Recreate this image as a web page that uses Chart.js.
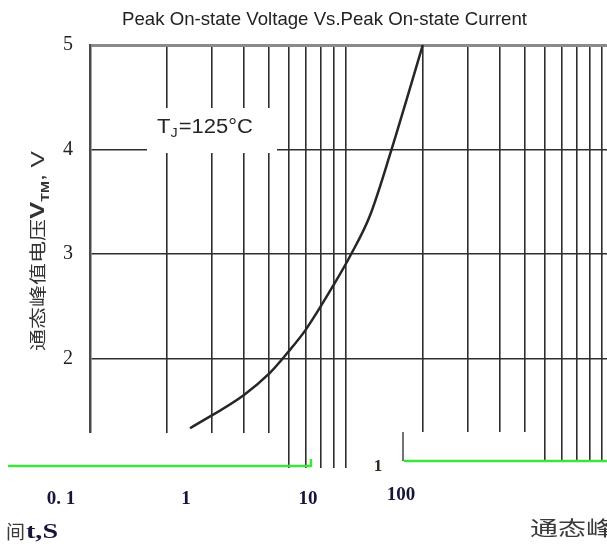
<!DOCTYPE html>
<html>
<head>
<meta charset="utf-8">
<script src="https://cdn.jsdelivr.net/npm/chart.js@4/dist/chart.umd.min.js"></script>
<style>
  html, body { margin: 0; padding: 0; background: #fff; }
</style>
</head>
<body>
<canvas id="vtm" width="607" height="548"></canvas>
<script>
// peak on-state current (A) vs peak on-state voltage (V), Tj = 125°C
const current = [2.46, 4.0, 5.05, 5.95, 7.0, 9.05, 10.4, 12.4, 15.1, 17.3, 20];
const voltage = [1.33, 1.65, 1.86, 2.06, 2.28, 2.72, 2.98, 3.36, 4.0, 4.48, 5.0];

// log grid: 1..10, 20..100
const currentGrid = [1, 2, 3, 4, 5, 6, 7, 8, 9, 10, 20, 30, 40, 50, 60, 70, 80, 90, 100];
const voltTicks = [1, 2, 3, 4, 5];
const timeTicks = ["0. 1", "1", "10", "100"];

const titleText = "Peak On-state Voltage Vs.Peak On-state Current";
const GRID = "#2e2e2e";
const SERIF = "'Liberation Serif', 'Times New Roman', serif";
const SANS = "'Liberation Sans', Arial, sans-serif";
const CJK = "'Noto Sans CJK SC', sans-serif";

// text squeezed/stretched to a given width
function fitText(ctx, text, x, y, width) {
  const w = ctx.measureText(text).width;
  ctx.save();
  ctx.translate(x, y);
  ctx.scale(width / w, 1);
  ctx.fillText(text, 0, 0);
  ctx.restore();
}

const overlays = {
  id: "overlays",
  afterDraw(chart) {
    const { ctx } = chart;
    ctx.save();

    // heading
    ctx.fillStyle = "#222";
    ctx.textBaseline = "alphabetic";
    ctx.textAlign = "left";
    ctx.font = "19px " + SANS;
    fitText(ctx, titleText, 122, 25, 405);

    // broken strip along the bottom edge
    ctx.fillStyle = "#fff";
    ctx.fillRect(0, 433, 287, 60);
    ctx.fillRect(400, 432, 142, 60);
    ctx.fillRect(540, 462, 67, 30);
    ctx.strokeStyle = "#3be63b";
    ctx.lineWidth = 2.5;
    ctx.beginPath();
    ctx.moveTo(8, 466);
    ctx.lineTo(311, 466);
    ctx.lineTo(311, 459);
    ctx.moveTo(404, 461);
    ctx.lineTo(607, 461);
    ctx.stroke();
    ctx.strokeStyle = "#444";
    ctx.lineWidth = 1.5;
    ctx.beginPath();
    ctx.moveTo(403, 432);
    ctx.lineTo(403, 461);
    ctx.stroke();

    // temperature label on a white patch
    ctx.fillStyle = "#fff";
    ctx.fillRect(147, 108, 130, 45);
    ctx.fillStyle = "#262626";
    ctx.save();
    ctx.translate(157, 133);
    ctx.scale(1.1, 1);
    let x = 0;
    ctx.font = "20px " + SANS;
    ctx.fillText("T", x, 0);
    x += ctx.measureText("T").width;
    ctx.font = "13px " + SANS;
    ctx.fillText("J", x, 4);
    x += ctx.measureText("J").width + 1;
    ctx.font = "20px " + SANS;
    ctx.fillText("=125°C", x, 0);
    ctx.restore();

    // rotated y-axis title with subscript
    const parts = [
      { t: "通态峰值电压", f: "17px " + CJK, dy: 0 },
      { t: "V", f: "bold 20px " + SANS, dy: 0 },
      { t: "TM", f: "bold 11px " + SANS, dy: 5 },
      { t: ", V", f: "19px " + SANS, dy: 0 }
    ];
    let total = 0;
    parts.forEach(p => { ctx.font = p.f; p.w = ctx.measureText(p.t).width; total += p.w; });
    ctx.save();
    ctx.translate(44, 251);
    ctx.rotate(-Math.PI / 2);
    ctx.scale(200 / total, 1);
    ctx.fillStyle = "#333";
    let px = -total / 2;
    parts.forEach(p => {
      ctx.font = p.f;
      ctx.fillText(p.t, px, p.dy);
      px += p.w;
    });
    ctx.restore();

    // time axis labels below the plot
    const timeX = [61, 186, 308, 401];
    const timeY = [504, 504, 504, 500];
    ctx.fillStyle = "#15153a";
    ctx.textAlign = "center";
    ctx.font = "bold 19px " + SERIF;
    timeTicks.forEach((t, i) => ctx.fillText(t, timeX[i], timeY[i]));
    ctx.fillStyle = "#2a2a1a";
    ctx.font = "bold 17px " + SERIF;
    ctx.fillText("1", 378, 471);

    ctx.textAlign = "left";
    ctx.fillStyle = "#3a3a3a";
    ctx.font = "19px " + CJK;
    fitText(ctx, "间", 6, 539, 19);
    ctx.fillStyle = "#15153a";
    ctx.font = "bold 20px " + SERIF;
    fitText(ctx, "t,S", 26, 538, 32);
    ctx.fillStyle = "#3a3a3a";
    ctx.font = "20px " + CJK;
    fitText(ctx, "通态峰", 530, 536, 84);

    ctx.restore();
  }
};

new Chart(document.getElementById("vtm"), {
  type: "line",
  data: {
    datasets: [{
      data: current.map((c, i) => ({ x: c, y: voltage[i] })),
      borderColor: "#262626",
      borderWidth: 2.5,
      pointRadius: 0,
      fill: false,
      cubicInterpolationMode: "monotone"
    }]
  },
  options: {
    responsive: false,
    animation: false,
    layout: { padding: { left: 0, right: 0, top: 45, bottom: 80 } },
    plugins: {
      legend: { display: false },
      tooltip: { enabled: false },
      title: { display: false }
    },
    scales: {
      x: {
        type: "logarithmic",
        min: 1,
        max: 105,
        border: { display: false },
        grid: {
          drawTicks: false,
          lineWidth: 1.6,
          color: (c) => (c.tick && c.tick.value === 1 ? "transparent" : GRID)
        },
        ticks: { display: false },
        afterBuildTicks: (s) => { s.ticks = currentGrid.map(v => ({ value: v })); },
        afterFit: (s) => { s.height = 0; }
      },
      y: {
        min: 0.95,
        max: 5,
        border: { display: true, color: "#4a4a4a", width: 2.5 },
        grid: {
          drawTicks: false,
          lineWidth: (c) => (c.tick && c.tick.value === 5 ? 3 : 1.6),
          color: (c) => {
            if (!c.tick) return GRID;
            if (c.tick.value === 5) return "#8a8a8a";
            if (c.tick.value === 1) return "transparent";
            return GRID;
          }
        },
        ticks: {
          padding: 17,
          color: "#222",
          font: { family: SERIF, size: 20 },
          callback: (v) => (v === 1 ? "" : v)
        },
        afterBuildTicks: (s) => { s.ticks = voltTicks.map(v => ({ value: v })); },
        afterFit: (s) => { s.width = 90; }
      }
    }
  },
  plugins: [overlays]
});
</script>
</body>
</html>
